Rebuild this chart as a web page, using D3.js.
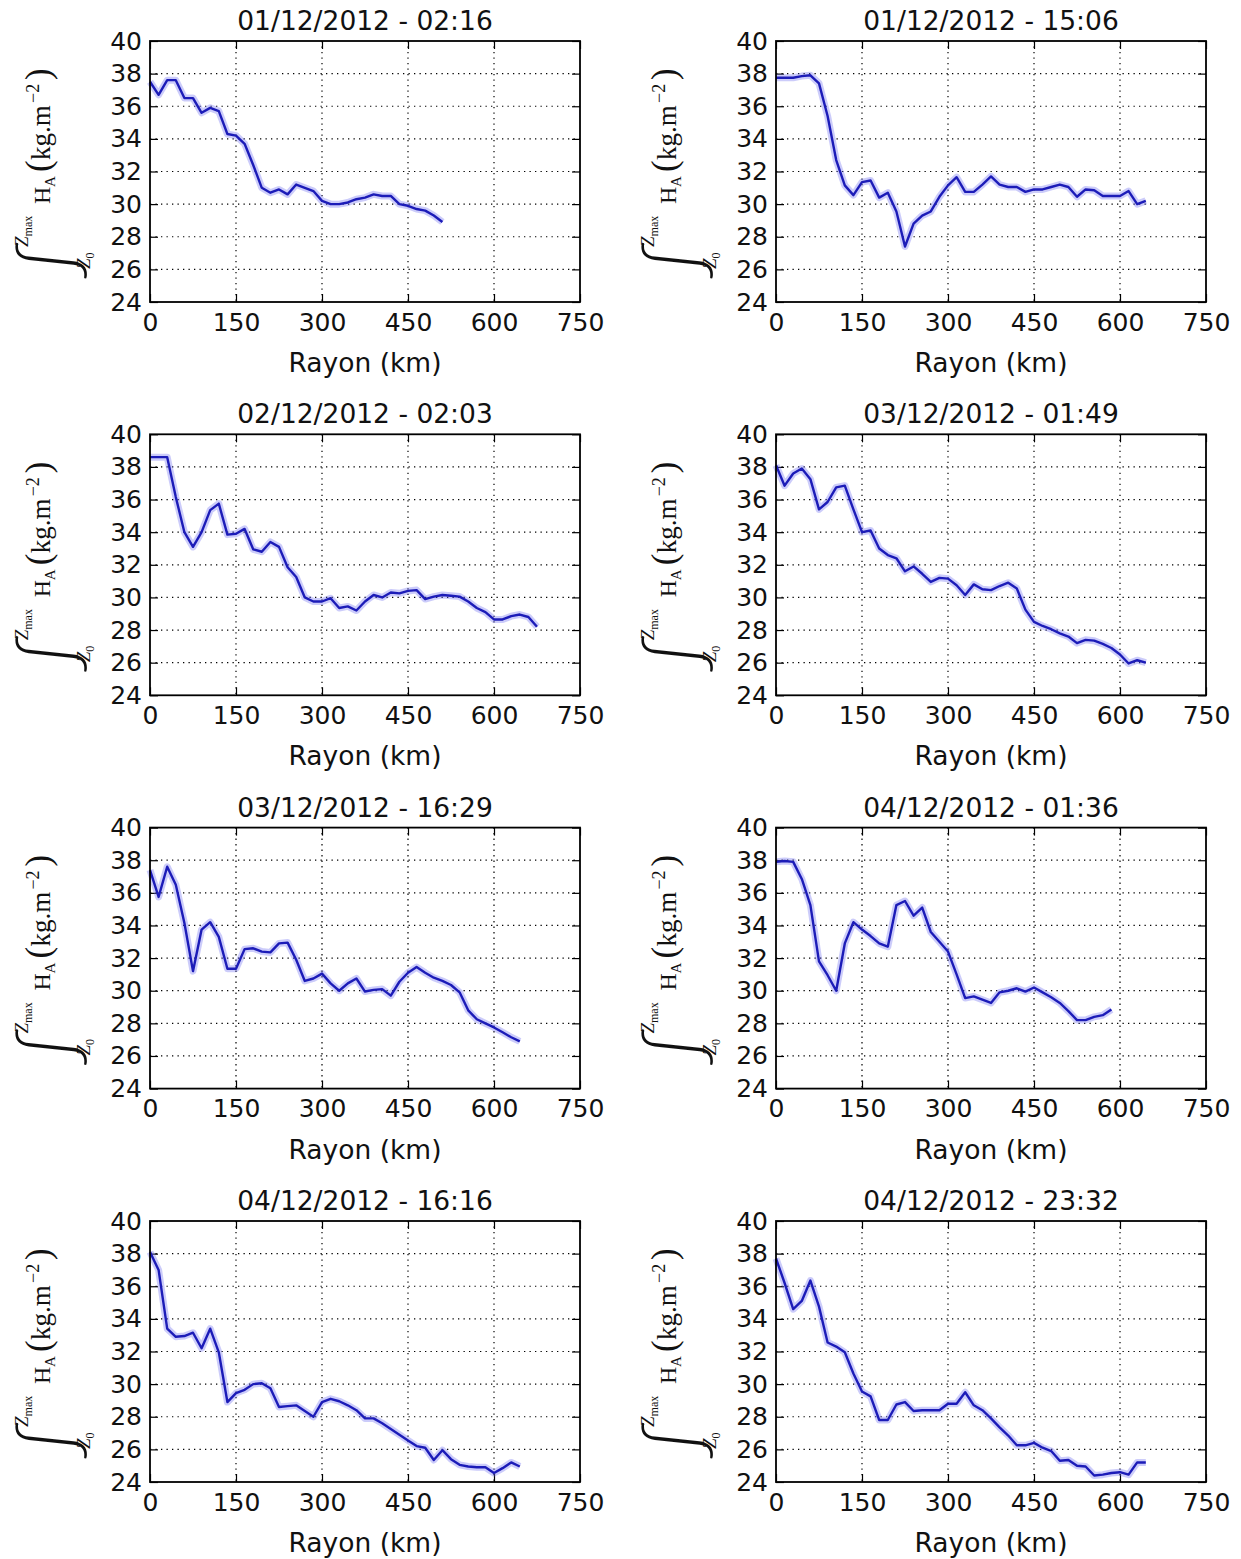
<!DOCTYPE html>
<html><head><meta charset="utf-8">
<script src="https://cdn.jsdelivr.net/npm/d3@7"></script>
<style>body{margin:0;background:#fff}</style>
</head><body>
<svg id="c" width="1241" height="1559"></svg>
<script>
const radii = [0,15,30,45,60,75,90,105,120,135,150,165,180,195,210,225,240,255,270,285,300,315,330,345,360,375,390,405,420,435,450,465,480,495,510,525,540,555,570,585,600,615,630,645,660,675];
const xTicks = [0,150,300,450,600,750];
const yTicks = [24,26,28,30,32,34,36,38,40];
const titles = ["01/12/2012 - 02:16","01/12/2012 - 15:06","02/12/2012 - 02:03","03/12/2012 - 01:49","03/12/2012 - 16:29","04/12/2012 - 01:36","04/12/2012 - 16:16","04/12/2012 - 23:32"];
const s1 = [37.5,36.7,37.6,37.6,36.5,36.5,35.6,35.9,35.7,34.3,34.2,33.7,32.4,31.0,30.7,30.9,30.6,31.2,31.0,30.8,30.2,30.0,30.0,30.1,30.3,30.4,30.6,30.5,30.5,30.0,29.9,29.7,29.6,29.3,28.9];
const s2 = [37.75,37.75,37.75,37.85,37.9,37.4,35.4,32.7,31.15,30.55,31.35,31.45,30.4,30.7,29.55,27.4,28.8,29.3,29.55,30.45,31.15,31.65,30.75,30.75,31.2,31.7,31.2,31.05,31.05,30.75,30.9,30.9,31.05,31.2,31.05,30.45,30.9,30.85,30.5,30.5,30.5,30.8,30.0,30.2];
const s3 = [38.6,38.6,38.6,36.15,34.0,33.1,34.0,35.35,35.75,33.85,33.9,34.2,32.95,32.8,33.4,33.1,31.85,31.25,30.0,29.75,29.75,29.95,29.35,29.45,29.2,29.75,30.15,30.0,30.3,30.25,30.4,30.45,29.9,30.05,30.15,30.1,30.05,29.75,29.35,29.1,28.65,28.65,28.85,28.95,28.8,28.2];
const s4 = [38.1,36.85,37.6,37.9,37.25,35.4,35.85,36.75,36.85,35.4,34.0,34.1,33.0,32.6,32.4,31.6,31.9,31.45,30.95,31.2,31.15,30.75,30.15,30.8,30.5,30.45,30.7,30.9,30.55,29.25,28.5,28.25,28.05,27.8,27.6,27.2,27.4,27.35,27.15,26.9,26.5,25.95,26.15,26.0];
const s5 = [37.4,35.75,37.6,36.5,34.15,31.2,33.75,34.2,33.3,31.35,31.35,32.55,32.6,32.4,32.35,32.9,32.95,31.9,30.6,30.75,31.05,30.45,30.0,30.45,30.75,29.95,30.05,30.1,29.7,30.55,31.1,31.45,31.1,30.8,30.6,30.35,29.9,28.8,28.25,28.0,27.75,27.45,27.15,26.9];
const s6 = [37.9,37.95,37.9,36.85,35.25,31.8,30.95,30.0,32.9,34.2,33.75,33.35,32.9,32.7,35.25,35.5,34.6,35.1,33.6,33.0,32.4,31.0,29.55,29.65,29.45,29.25,29.9,30.0,30.15,29.95,30.2,29.9,29.6,29.25,28.75,28.2,28.2,28.4,28.5,28.85];
const s7 = [38.1,37.0,33.4,32.9,32.95,33.15,32.2,33.4,31.95,28.9,29.45,29.65,30.0,30.05,29.75,28.6,28.65,28.7,28.35,28.0,28.9,29.1,28.95,28.7,28.4,27.9,27.9,27.6,27.25,26.9,26.55,26.2,26.1,25.35,25.95,25.4,25.05,24.95,24.9,24.9,24.55,24.85,25.2,24.95];
const s8 = [37.7,36.2,34.6,35.1,36.35,34.75,32.55,32.3,31.95,30.65,29.55,29.25,27.8,27.8,28.75,28.9,28.35,28.4,28.4,28.4,28.8,28.8,29.5,28.7,28.4,27.9,27.35,26.85,26.25,26.25,26.4,26.1,25.9,25.3,25.35,25.0,24.95,24.4,24.45,24.55,24.6,24.45,25.2,25.2];
const series = [s1,s2,s3,s4,s5,s6,s7,s8];

const svg = d3.select('#c');
const W = 430, H = 261;
const colX = [150, 776];
const rowY = [41, 434.3, 827.6, 1221];
const sans = "'DejaVu Sans', sans-serif";
const serif = "'Liberation Serif', 'DejaVu Serif', serif";

series.forEach((vals, i) => {
  const col = i % 2, row = Math.floor(i / 2);
  const ox = colX[col], oy = rowY[row];
  const g = svg.append('g').attr('transform', `translate(${ox},${oy})`);
  const x = d3.scaleLinear().domain([0, 750]).range([0, W]);
  const y = d3.scaleLinear().domain([24, 40]).range([H, 0]);

  // grid
  const grid = g.append('g').attr('stroke', '#000').attr('stroke-width', 1.2).attr('stroke-dasharray', '1.3,4.2');
  xTicks.slice(1, -1).forEach(t => grid.append('line').attr('x1', x(t)).attr('x2', x(t)).attr('y1', 0).attr('y2', H));
  yTicks.slice(1, -1).forEach(t => grid.append('line').attr('x1', 0).attr('x2', W).attr('y1', y(t)).attr('y2', y(t)));

  // axes
  const styleAxis = sel => {
    sel.select('.domain').remove();
    sel.selectAll('.tick line').attr('stroke', '#000').attr('stroke-width', 1.2);
    sel.selectAll('.tick text').attr('font-family', sans).attr('font-size', 25).attr('fill', '#111');
  };
  g.append('g').attr('transform', `translate(0,${H})`)
    .call(d3.axisBottom(x).tickValues(xTicks).tickSize(-8).tickPadding(11).tickFormat(d3.format('d')))
    .call(styleAxis);
  g.append('g')
    .call(d3.axisLeft(y).tickValues(yTicks).tickSize(-8).tickPadding(8).tickFormat(d3.format('d')))
    .call(styleAxis);
  g.append('g')
    .call(d3.axisTop(x).tickValues(xTicks).tickSize(-8).tickFormat(''))
    .call(styleAxis);
  g.append('g').attr('transform', `translate(${W},0)`)
    .call(d3.axisRight(y).tickValues(yTicks).tickSize(-8).tickFormat(''))
    .call(styleAxis);

  // data
  const pts = vals.map((v, k) => [radii[k], v]);
  const line = d3.line().x(d => x(d[0])).y(d => y(d[1]));
  g.append('path').datum(pts).attr('d', line).attr('fill', 'none')
    .attr('stroke', 'rgba(110,110,240,0.35)').attr('stroke-width', 7).attr('stroke-linejoin', 'round');
  g.append('path').datum(pts).attr('d', line).attr('fill', 'none')
    .attr('stroke', '#1c1cb8').attr('stroke-width', 2.4).attr('stroke-linejoin', 'round');

  // frame
  g.append('rect').attr('width', W).attr('height', H).attr('fill', 'none')
    .attr('stroke', '#000').attr('stroke-width', 1.8);

  // title
  g.append('text').attr('x', W / 2).attr('y', -11).attr('text-anchor', 'middle')
    .attr('font-family', sans).attr('font-size', 26.5).attr('fill', '#111').text(titles[i]);

  // x label
  g.append('text').attr('x', W / 2).attr('y', H + 70).attr('text-anchor', 'middle')
    .attr('font-family', sans).attr('font-size', 26.5).attr('fill', '#111').text('Rayon (km)');

  // y label (rotated): local x runs upward, local y runs to the right
  const lab = g.append('g').attr('transform', `translate(-100,${H - 19}) rotate(-90)`)
    .attr('font-family', serif).attr('fill', '#111');
  lab.append('text').attr('x', 4).attr('y', 24).attr('font-size', 72)
    .attr('font-family', "Lato, 'DejaVu Serif', serif").attr('font-weight', 300).text('∫');
  const sup = lab.append('text').attr('x', 36).attr('y', -22).attr('font-size', 19);
  sup.append('tspan').attr('font-style', 'italic').text('Z');
  sup.append('tspan').attr('font-size', 12).attr('dy', 4).text('max');
  const sub = lab.append('text').attr('x', 14).attr('y', 40).attr('font-size', 19);
  sub.append('tspan').attr('font-style', 'italic').text('Z');
  sub.append('tspan').attr('font-size', 12).attr('dy', 4).text('0');
  lab.append('text').attr('x', 79).attr('y', 0).attr('font-size', 24).text('H');
  lab.append('text').attr('x', 96).attr('y', 5).attr('font-size', 15).text('A');
  lab.append('text').attr('x', 111).attr('y', 0).attr('font-size', 35).text('(');
  lab.append('text').attr('x', 123).attr('y', 0).attr('font-size', 27).text('kg.m');
  lab.append('text').attr('x', 180).attr('y', -11).attr('font-size', 18).text('\u22122');
  lab.append('text').attr('x', 203).attr('y', 0).attr('font-size', 35).text(')');
});
</script>
</body></html>
